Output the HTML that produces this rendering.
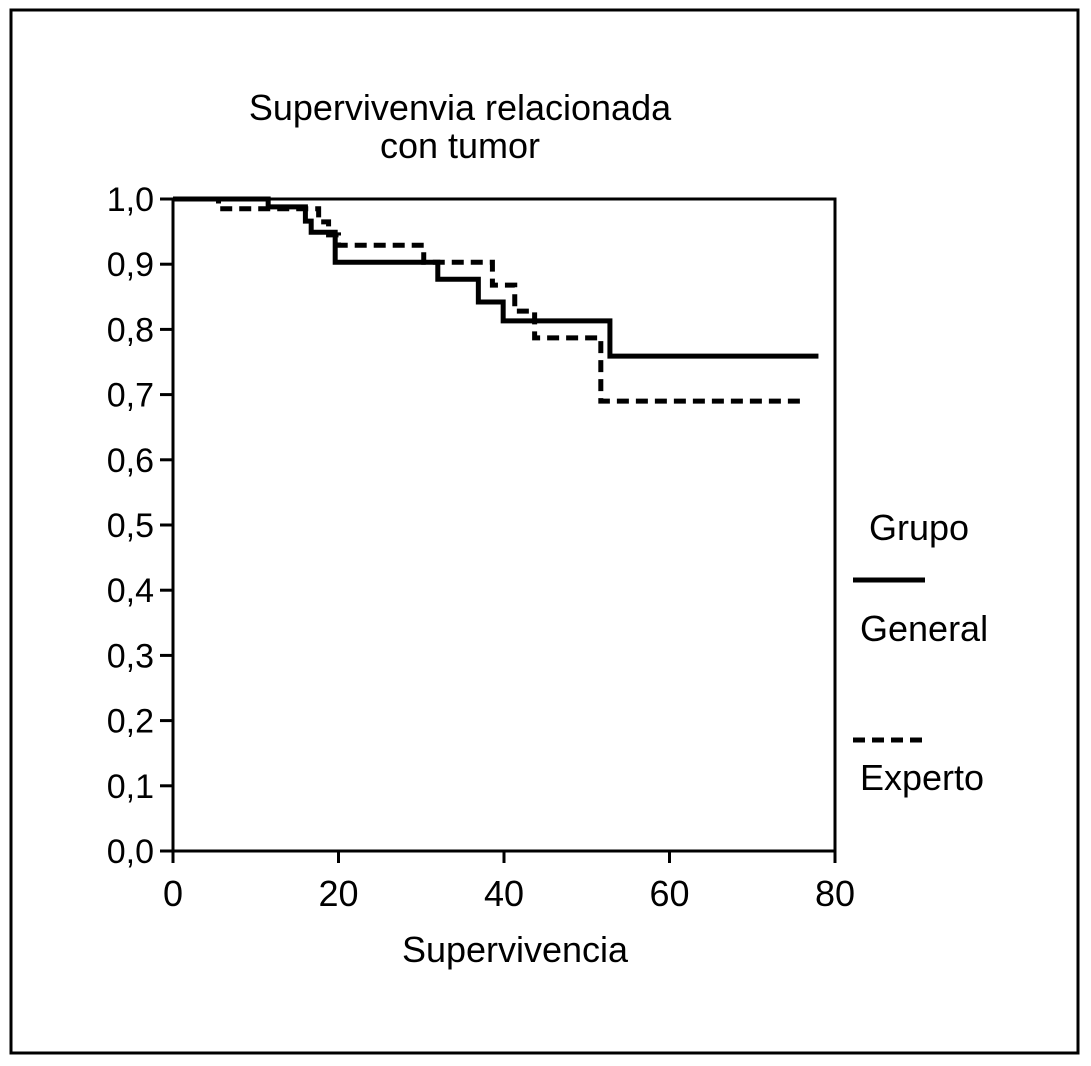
<!DOCTYPE html>
<html><head><meta charset="utf-8"><style>
html,body{margin:0;padding:0;background:#fff;}
svg{display:block;font-family:"Liberation Sans",Arial,sans-serif;}
</style></head><body>
<svg id="chart" width="1091" height="1066" viewBox="0 0 1091 1066">
<rect x="11" y="10" width="1067" height="1043" fill="none" stroke="#000" stroke-width="3"/>
<text x="460" y="120" font-size="36" text-anchor="middle">Supervivenvia relacionada</text>
<text x="460" y="158" font-size="36" text-anchor="middle">con tumor</text>
<g id="axes"></g>
<g id="series"></g>
<text x="869" y="540" font-size="36">Grupo</text>
<line x1="853" y1="580" x2="925" y2="580" stroke="#000" stroke-width="5"/>
<text x="860" y="641" font-size="36">General</text>
<line x1="853" y1="740" x2="922" y2="740" stroke="#000" stroke-width="5" stroke-dasharray="12,7"/>
<text x="860" y="790" font-size="36">Experto</text>
<text x="515" y="962" font-size="36" text-anchor="middle">Supervivencia</text>
</svg>
<script>
const xTicks = [0, 20, 40, 60, 80];
const yTicks = [0, 0.1, 0.2, 0.3, 0.4, 0.5, 0.6, 0.7, 0.8, 0.9, 1.0];
const yTickLabels = ["0,0","0,1","0,2","0,3","0,4","0,5","0,6","0,7","0,8","0,9","1,0"];
const generalTimes = [0, 11.5, 16.0, 16.7, 19.6, 32.0, 36.9, 39.9, 52.8, 78.0];
const generalSurv = [1.0, 0.988, 0.966, 0.949, 0.903, 0.877, 0.842, 0.813, 0.759, 0.759];
const expertoTimes = [0, 5.5, 17.6, 18.8, 20.0, 30.3, 38.6, 41.3, 43.7, 51.7, 75.8];
const expertoSurv = [1.0, 0.985, 0.965, 0.945, 0.929, 0.903, 0.868, 0.828, 0.787, 0.690, 0.690];

const NS = "http://www.w3.org/2000/svg";
const X0 = 173, X1 = 835, Y0 = 851, Y1 = 199;
const xs = v => X0 + (v / 80) * (X1 - X0);
const ys = v => Y0 - v * (Y0 - Y1);
function mk(tag, attrs, parent) {
  const e = document.createElementNS(NS, tag);
  for (const k in attrs) e.setAttribute(k, attrs[k]);
  parent.appendChild(e);
  return e;
}
const axes = document.getElementById('axes');
const series = document.getElementById('series');

let e = mk('path', {d: `M${X0},${Y0} L${X0},${Y1} L${X1},${Y1} L${X1},${Y0} Z`, fill: 'none', stroke: '#000', 'stroke-width': 3}, axes);



yTicks.forEach((v, i) => {
  const l = mk('line', {x1: X0 - 13, x2: X0, y1: ys(v), y2: ys(v), stroke: '#000', 'stroke-width': 3}, axes);
  
  
  const t = mk('text', {x: X0 - 19, y: ys(v) + 12, 'font-size': 34, 'text-anchor': 'end'}, axes);
  t.textContent = yTickLabels[i];
  
  
});
xTicks.forEach(v => {
  const l = mk('line', {x1: xs(v), x2: xs(v), y1: Y0, y2: Y0 + 12, stroke: '#000', 'stroke-width': 3}, axes);
  
  
  const t = mk('text', {x: xs(v), y: Y0 + 55, 'font-size': 36, 'text-anchor': 'middle'}, axes);
  t.textContent = String(v);
  
  
});

function stepPath(times, surv) {
  let d = `M${xs(times[0])},${ys(surv[0])}`;
  for (let i = 1; i < times.length; i++) {
    d += ` L${xs(times[i])},${ys(surv[i-1])} L${xs(times[i])},${ys(surv[i])}`;
  }
  return d;
}
const g = mk('path', {d: stepPath(generalTimes, generalSurv), fill: 'none', stroke: '#000', 'stroke-width': 5}, series);


const x = mk('path', {d: stepPath(expertoTimes, expertoSurv), fill: 'none', stroke: '#000', 'stroke-width': 5, 'stroke-dasharray': '12,7'}, series);


</script>
</body></html>
